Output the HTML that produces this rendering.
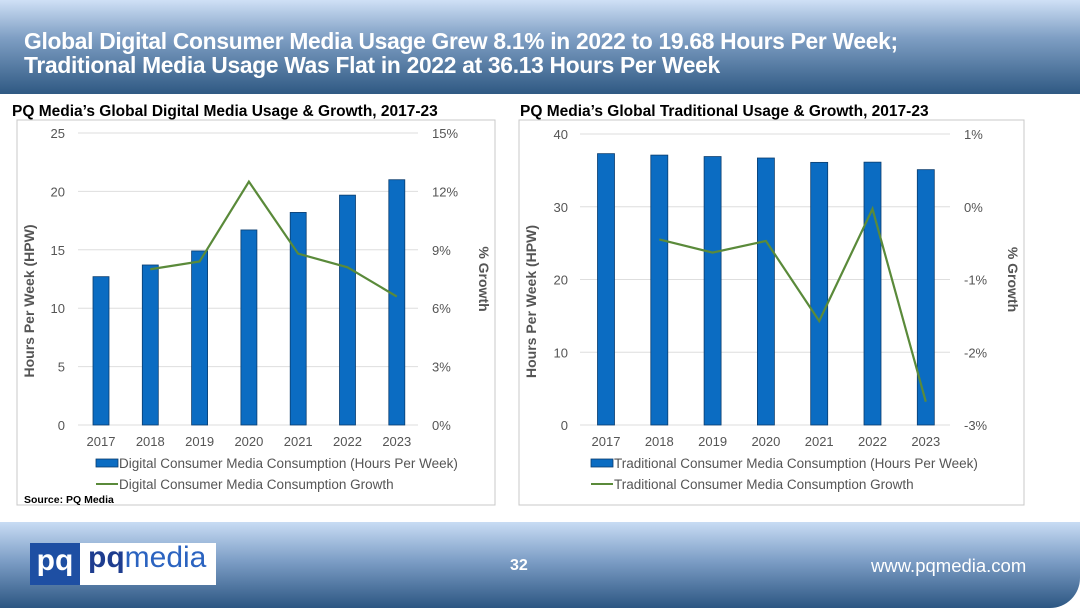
<!DOCTYPE html>
<html><head><meta charset="utf-8"><style>
html,body{margin:0;padding:0;background:#fff;}
body{width:1080px;height:608px;position:relative;overflow:hidden;font-family:"Liberation Sans",Arial,sans-serif;}
#hdr{position:absolute;left:0;top:0;width:1080px;height:94px;background:linear-gradient(#cfe0f6 0%,#7f9fc4 40%,#2f5983 100%);}
#hdr div{position:absolute;left:24px;top:29px;color:#fff;font-weight:bold;font-size:23.5px;line-height:24px;letter-spacing:-0.3px;transform:scaleX(0.97);transform-origin:left;white-space:nowrap;}
#ftr{position:absolute;left:0;top:522px;width:1080px;height:86px;background:linear-gradient(#c8dcf4 0%,#7d9ec6 45%,#2c5682 100%);border-bottom-right-radius:30px;}
</style></head><body>
<div id="hdr"><div>Global Digital Consumer Media Usage Grew 8.1% in 2022 to 19.68 Hours Per Week;<br>Traditional Media Usage Was Flat in 2022 at 36.13 Hours Per Week</div></div>
<div id="ftr">
 <div style="position:absolute;left:30px;top:21px;width:186px;height:42px;background:#fff;">
  <div style="position:absolute;left:0;top:0;width:50px;height:42px;background:#1e4fa3;color:#fff;font-weight:bold;font-size:30px;line-height:36px;text-align:center;">pq</div>
  <div style="position:absolute;left:58px;top:-2px;font-size:30px;font-weight:bold;color:#1e3d8f;">pq<span style="color:#2b63c0;font-weight:normal">media</span></div>
 </div>
 <div style="position:absolute;left:510px;top:35px;color:#fff;font-weight:bold;font-size:16px;">32</div>
 <div style="position:absolute;left:871px;top:33px;color:#fff;font-size:18.5px;">www.pqmedia.com</div>
</div>
<svg id="chart" width="1080" height="608" style="position:absolute;left:0;top:0" xmlns="http://www.w3.org/2000/svg"></svg>
<script>
const years=["2017","2018","2019","2020","2021","2022","2023"];
const digitalHours=[12.7,13.7,14.9,16.7,18.2,19.68,21.0];
const digitalGrowth=[null,8.0,8.4,12.5,8.8,8.1,6.6];
const tradHours=[37.3,37.1,36.9,36.7,36.1,36.13,35.1];
const tradGrowth=[null,-0.45,-0.63,-0.47,-1.57,-0.03,-2.68];
const digLeftTicks=[0,5,10,15,20,25];
const digRightTicks=[0,3,6,9,12,15];
const tradLeftTicks=[0,10,20,30,40];
const tradRightTicks=[-3,-2,-1,0,1];

const svg=document.getElementById('chart');
const NS="http://www.w3.org/2000/svg";
function mk(tag,attrs,parent){const e=document.createElementNS(NS,tag);for(const k in attrs)e.setAttribute(k,attrs[k]);(parent||svg).appendChild(e);return e;}
function txt(s,attrs,parent){const e=mk('text',attrs,parent);e.textContent=s;return e;}

function chart(cfg){
 const g=mk('g',{});
 
 
 const t=txt(cfg.title,{x:cfg.titleX,y:116,'font-size':15.5,'font-weight':'bold',fill:'#000'},g);
 
 
 const fr=mk('rect',{x:cfg.fx,y:120,width:cfg.fw,height:385,fill:'#fff',stroke:'#c8c8c8'},g);
 
 
 const y0=425,yTop=cfg.yTop;
 const yL=v=>y0-(v-cfg.lMin)/(cfg.lMax-cfg.lMin)*(y0-yTop);
 const yR=v=>y0-(v-cfg.rMin)/(cfg.rMax-cfg.rMin)*(y0-yTop);
 const xC=i=>cfg.x0+i*cfg.step;
 cfg.lTicks.forEach(v=>{
  const l=mk('line',{x1:cfg.gx1,x2:cfg.gx2,y1:yL(v),y2:yL(v),stroke:'#dedede'},g);
  
  
  const tt=txt(String(v),{x:cfg.lx,y:yL(v)+5,'font-size':13,fill:'#555','text-anchor':'end'},g);
  
  
 });
 cfg.rTicks.forEach(v=>{
  const tt=txt(v+'%',{x:cfg.rx,y:yR(v)+5,'font-size':13,fill:'#555','text-anchor':'start'},g);
  
  
 });
 cfg.hours.forEach((v,i)=>{
  const b=mk('rect',{x:xC(i)-cfg.bw/2,y:yL(v),width:cfg.bw,height:y0-yL(v),fill:'#0b6cc2',stroke:'#0b3d6e','stroke-width':0.8},g);
  
  
  const xl=txt(years[i],{x:xC(i),y:446,'font-size':13,fill:'#555','text-anchor':'middle'},g);
  
  
 });
 let d='';
 cfg.growth.forEach((v,i)=>{if(v===null)return;d+=(d?'L':'M')+xC(i)+' '+yR(v)+' ';});
 const ln=mk('path',{d:d,fill:'none',stroke:'#5a8a3a','stroke-width':2.2},g);
 
 
 const ya=txt('Hours Per Week (HPW)',{x:0,y:0,'font-size':14,'font-weight':'bold',fill:'#555','text-anchor':'middle',transform:`translate(${cfg.ytx},${(y0+yTop)/2+22}) rotate(-90)`},g);
 
 
 const ry=txt('% Growth',{x:0,y:0,'font-size':14,'font-weight':'bold',fill:'#555','text-anchor':'middle',transform:`translate(${cfg.rtx},${(y0+yTop)/2}) rotate(90)`},g);
 
 
 const lg1=mk('rect',{x:cfg.legX,y:459,width:22,height:8,fill:'#0b6cc2',stroke:'#0b3d6e','stroke-width':0.8},g);
 
 
 const lt1=txt(cfg.leg1,{x:cfg.legX+23,y:468,'font-size':13.5,fill:'#555'},g);
 
 
 const lg2=mk('line',{x1:cfg.legX,x2:cfg.legX+22,y1:484,y2:484,stroke:'#5a8a3a','stroke-width':2},g);
 
 
 const lt2=txt(cfg.leg2,{x:cfg.legX+23,y:489,'font-size':13.5,fill:'#555'},g);
 
 
}
chart({name:'digital-chart',title:'PQ Media\u2019s Global Digital Media Usage & Growth, 2017-23',titleX:12,fx:17,fw:478,yTop:133,
 lMin:0,lMax:25,rMin:0,rMax:15,lTicks:digLeftTicks,rTicks:digRightTicks,x0:101,step:49.3,bw:16,gx1:78,gx2:418,lx:65,rx:432,
 hours:digitalHours,growth:digitalGrowth,ytx:34,rtx:479,legX:96,
 leg1:'Digital Consumer Media Consumption (Hours Per Week)',leg2:'Digital Consumer Media Consumption Growth'});
chart({name:'traditional-chart',title:'PQ Media\u2019s Global Traditional Usage & Growth, 2017-23',titleX:520,fx:519,fw:505,yTop:134,
 lMin:0,lMax:40,rMin:-3,rMax:1,lTicks:tradLeftTicks,rTicks:tradRightTicks,x0:606,step:53.3,bw:17,gx1:580,gx2:950,lx:568,rx:964,
 hours:tradHours,growth:tradGrowth,ytx:536,rtx:1008,legX:591,
 leg1:'Traditional Consumer Media Consumption (Hours Per Week)',leg2:'Traditional Consumer Media Consumption Growth'});
const src=txt('Source: PQ Media',{x:24,y:503,'font-size':10.5,'font-weight':'bold',fill:'#000'});


</script>
</body></html>
